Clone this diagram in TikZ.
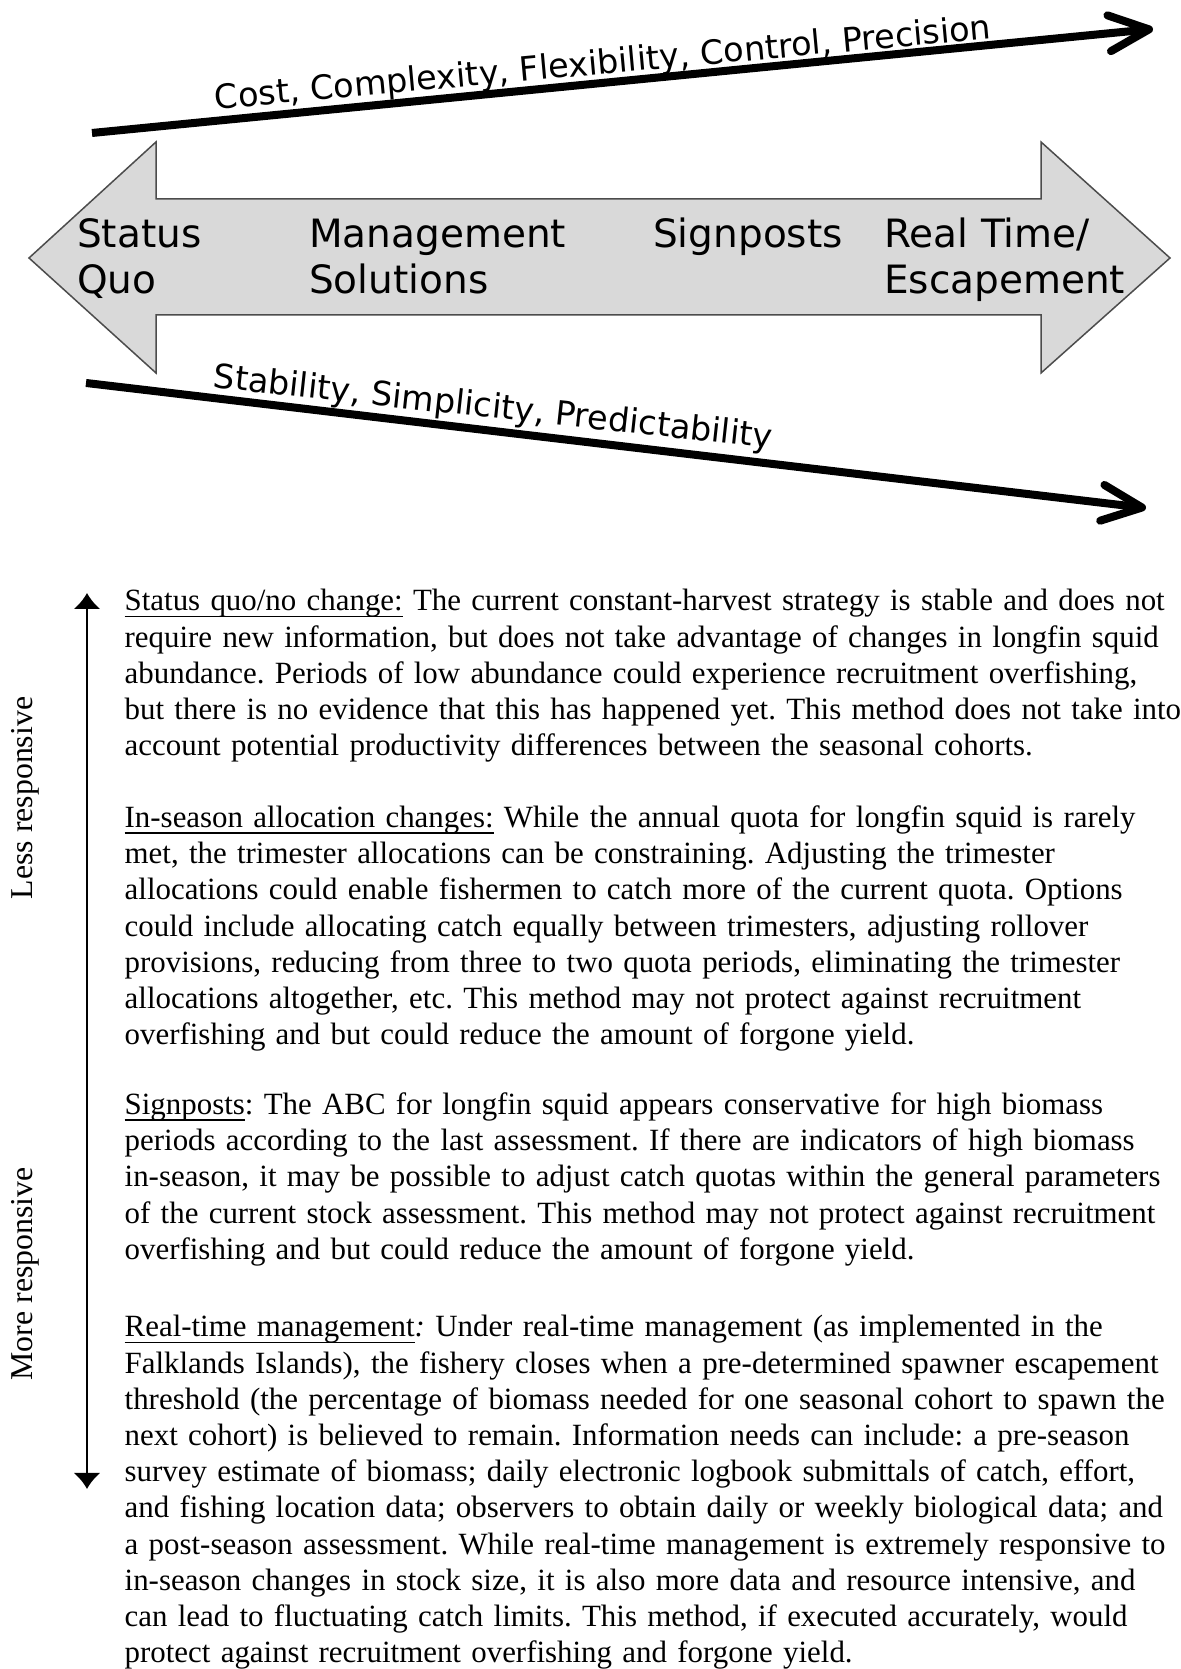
\documentclass[tikz,border=0pt]{standalone}
\usepackage{fontspec}
\setmainfont{Liberation Serif}
\newfontfamily\labelfont{DejaVu Sans}
\usetikzlibrary{arrows.meta,calc,positioning}

% underline set as a rule below the word
\newsavebox\ulbox
\newcommand{\ulined}[1]{\sbox\ulbox{#1}\rlap{\rule[-6.5pt]{\wd\ulbox}{1.6pt}}\usebox\ulbox}

\newcommand{\bodyfont}{\frenchspacing\fontsize{30.9}{36.2}\selectfont}
\newcommand{\sidefont}{\fontsize{31.8}{36}\selectfont}
\newcommand{\stagefont}{\labelfont\fontsize{39}{46}\selectfont}
\newcommand{\trendfont}{\labelfont\fontsize{33.5}{40}\selectfont}

\begin{document}
\begin{tikzpicture}[x=1pt,y=1pt,
    trend/.style={line width=8pt,-{Straight Barb[round,length=40pt,width=36pt]}},
    trendlabel/.style={font=\trendfont,anchor=base,inner sep=0pt},
    band/.style={fill=black!15,draw=black!70,line width=1.5pt},
    stage/.style={font=\stagefont,anchor=base west,align=left,inner sep=0pt,text width=300pt},
    para/.style={font=\bodyfont,anchor=base west,align=left,inner sep=0pt,text width=1100pt},
    side/.style={font=\sidefont,rotate=90,anchor=base,inner sep=0pt}]
  \useasboundingbox (0,0) rectangle (1180,1669);

  % rising trend
  \coordinate (cost0) at (92,1536);
  \coordinate (cost1) at (1153,1640);
  \draw[trend] (cost0) -- (cost1);
  \path (604,1595) node[trendlabel,rotate=5.2] (costlbl) {Cost, Complexity, Flexibility, Control, Precision};

  % the range of options
  \draw[band] (29,1411) -- (156,1527) -- (156,1470) -- (1041,1470) -- (1041,1527)
    -- (1170,1411) -- (1041,1296) -- (1041,1354) -- (156,1354) -- (156,1296) -- cycle;
  \path (77,1421) node[stage] (quo) {Status\\Quo}
        (309,1421) node[stage] (mgmt) {Management\\Solutions}
        (653,1421) node[stage] (sign) {Signposts}
        (884,1421) node[stage] (rt) {Real Time/\\Escapement};

  % falling trend
  \coordinate (stab0) at (86,1286);
  \coordinate (stab1) at (1146,1161);
  \draw[trend] (stab0) -- (stab1);
  \path (492,1251) node[trendlabel,rotate=-6.2] (stablbl) {Stability, Simplicity, Predictability};

  % responsiveness scale
  \coordinate (less) at (87,1076);
  \coordinate (more) at (87,180);
  \draw[line width=2.5pt,{Latex[length=16pt,width=27pt]}-{Latex[length=16pt,width=27pt]}] (less) -- (more);
  \path (32,871) node[side] (lesslbl) {Less responsive}
        (32,395) node[side] (morelbl) {More responsive};

  % descriptions
  \path (124.5,1058) node[para] (quotxt) {\ulined{Status quo/no change:} The current constant-harvest strategy is stable and does not\\
    require new information, but does not take advantage of changes in longfin squid\\
    abundance. Periods of low abundance could experience recruitment overfishing,\\
    but there is no evidence that this has happened yet. This method does not take into\\
    account potential productivity differences between the seasonal cohorts.};
  \path (124.5,841.5) node[para] (alloctxt) {\ulined{In-season allocation changes:} While the annual quota for longfin squid is rarely\\
    met, the trimester allocations can be constraining. Adjusting the trimester\\
    allocations could enable fishermen to catch more of the current quota. Options\\
    could include allocating catch equally between trimesters, adjusting rollover\\
    provisions, reducing from three to two quota periods, eliminating the trimester\\
    allocations altogether, etc. This method may not protect against recruitment\\
    overfishing and but could reduce the amount of forgone yield.};
  \path (124.5,554.5) node[para] (signtxt) {\ulined{Signposts}: The ABC for longfin squid appears conservative for high biomass\\
    periods according to the last assessment. If there are indicators of high biomass\\
    in-season, it may be possible to adjust catch quotas within the general parameters\\
    of the current stock assessment. This method may not protect against recruitment\\
    overfishing and but could reduce the amount of forgone yield.};
  \path (124.5,332) node[para] (rttxt) {\ulined{Real-time management}\textit{:} Under real-time management (as implemented in the\\
    Falklands Islands), the fishery closes when a pre-determined spawner escapement\\
    threshold (the percentage of biomass needed for one seasonal cohort to spawn the\\
    next cohort) is believed to remain. Information needs can include: a pre-season\\
    survey estimate of biomass; daily electronic logbook submittals of catch, effort,\\
    and fishing location data; observers to obtain daily or weekly biological data; and\\
    a post-season assessment. While real-time management is extremely responsive to\\
    in-season changes in stock size, it is also more data and resource intensive, and\\
    can lead to fluctuating catch limits. This method, if executed accurately, would\\
    protect against recruitment overfishing and forgone yield.};
\end{tikzpicture}
\end{document}
